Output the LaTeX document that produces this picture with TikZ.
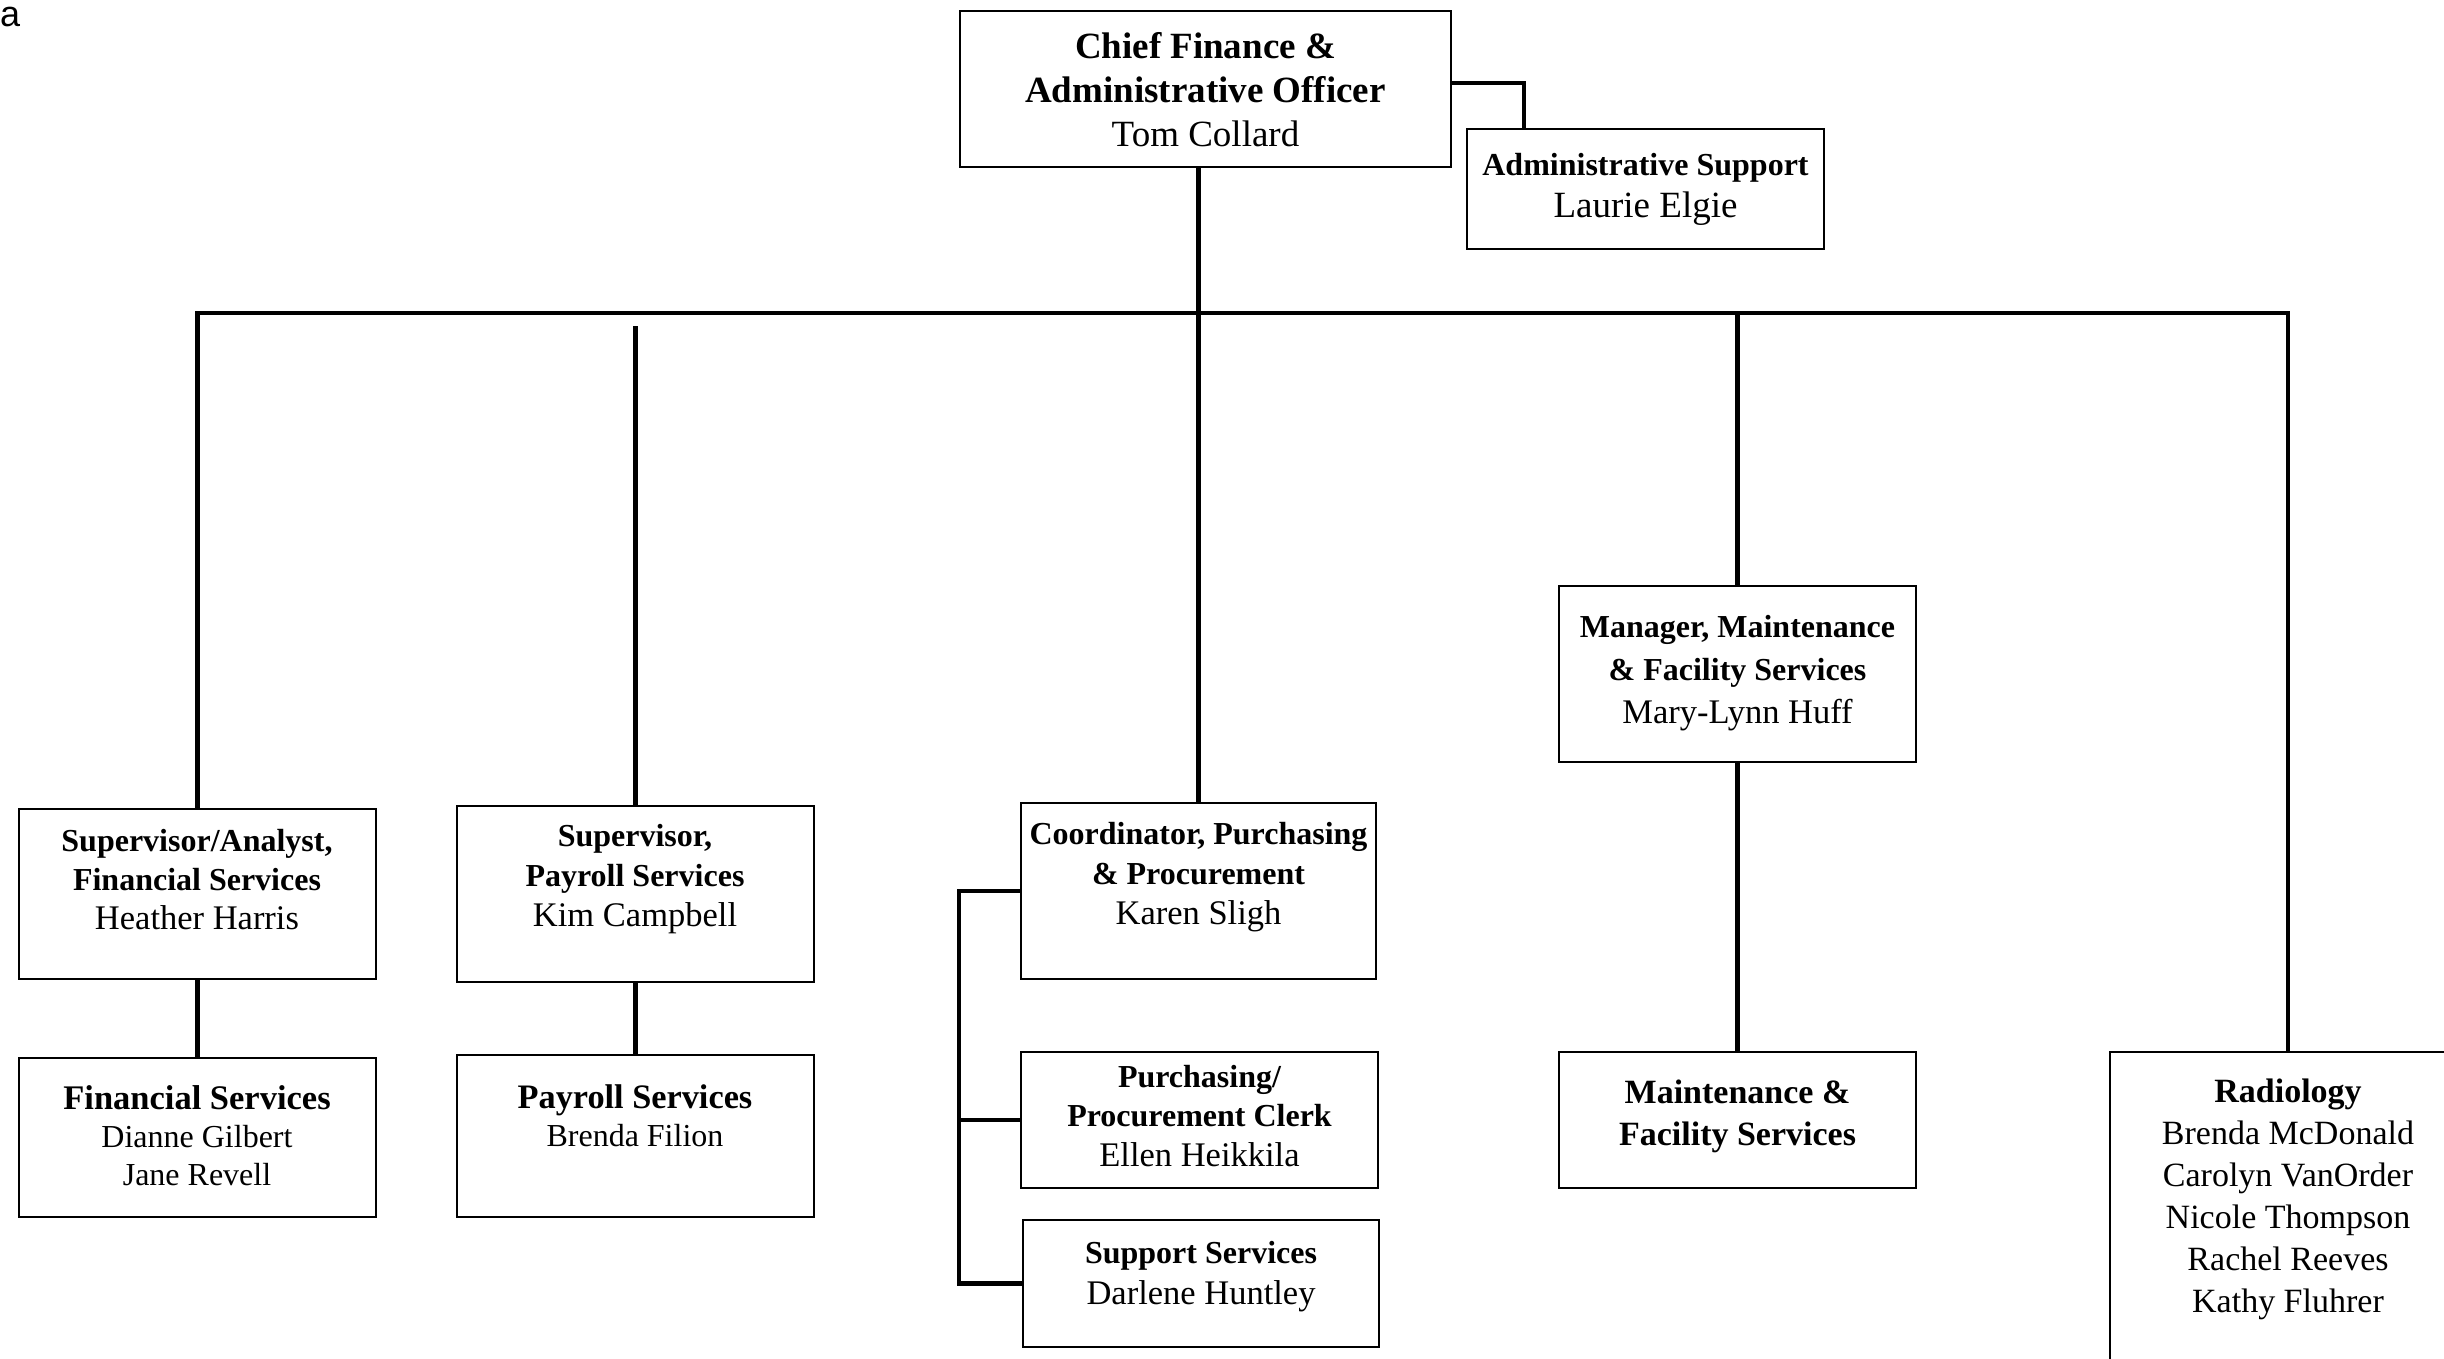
\documentclass[tikz,border=0pt]{standalone}
\usepackage{fontspec}
\setmainfont{Liberation Serif}
\newfontfamily\labelsans{Liberation Sans}
\newcommand\bx[5]{\node[box, minimum width=#4pt, minimum height=#5pt] (#1) at (#2,#3) {};}
\begin{document}
\begin{tikzpicture}[x=1pt,y=-1pt,
  box/.style={draw, line width=2.5pt, rectangle, inner sep=0pt},
  conn/.style={line width=4.5pt, line join=miter},
  txt/.style={align=center, inner sep=0pt}]
\useasboundingbox (0,0) rectangle (2444,1359);
\clip (0,0) rectangle (2444,1359);

% boxes
\bx{top}{1205.5}{89}{491}{156}
\bx{admin}{1645.5}{189}{357}{120}
\bx{sup1}{197.5}{894}{357}{170}
\bx{fin}{197.5}{1137.5}{357}{159}
\bx{sup2}{635.5}{894}{357}{176}
\bx{pay}{635.5}{1136}{357}{162}
\bx{coord}{1198.5}{891}{355}{176}
\bx{clerk}{1199.5}{1120}{357}{136}
\bx{supp}{1201}{1283.5}{356}{127}
\bx{mgr}{1737.5}{674}{357}{176}
\bx{maint}{1737.5}{1120}{357}{136}
\bx{rad}{2288}{1227}{356}{350}

% texts
\node[txt, font=\fontsize{37}{44}\selectfont] (ttop) at (1205.5,90)
  {{\bfseries Chief Finance \&}\\{\bfseries Administrative Officer}\\Tom Collard};
\node[txt, font=\fontsize{32}{42}\selectfont] (tadmin) at (1645.5,189)
  {{\bfseries Administrative Support}\\{\fontsize{37}{42}\selectfont Laurie Elgie}};
\node[txt, font=\fontsize{32}{39}\selectfont] (tsup1) at (197,880)
  {{\bfseries Supervisor/Analyst,}\\{\bfseries Financial Services}\\{\fontsize{34.5}{39}\selectfont Heather Harris}};
\node[txt, font=\fontsize{32}{38}\selectfont] (tfin) at (197,1136)
  {{\fontsize{34.5}{38}\selectfont\bfseries Financial Services}\\Dianne Gilbert\\Jane Revell};
\node[txt, font=\fontsize{32}{40}\selectfont] (tsup2) at (635,879)
  {{\bfseries Supervisor,}\\{\bfseries Payroll Services}\\{\fontsize{34.5}{40}\selectfont Kim Campbell}};
\node[txt, font=\fontsize{32}{38}\selectfont] (tpay) at (635,1116)
  {{\fontsize{34.3}{38}\selectfont\bfseries Payroll Services}\\Brenda Filion};
\node[txt, font=\fontsize{32}{40}\selectfont] (tcoord) at (1198.5,877)
  {{\bfseries Coordinator, Purchasing}\\{\bfseries \& Procurement}\\{\fontsize{34.5}{40}\selectfont Karen Sligh}};
\node[txt, font=\fontsize{32}{39.5}\selectfont] (tclerk) at (1199.5,1116)
  {{\bfseries Purchasing/}\\{\bfseries Procurement Clerk}\\{\fontsize{34.5}{39.5}\selectfont Ellen Heikkila}};
\node[txt, font=\fontsize{32}{41}\selectfont] (tsupp) at (1201,1277)
  {{\bfseries Support Services}\\{\fontsize{34.5}{41}\selectfont Darlene Huntley}};
\node[txt, font=\fontsize{32}{43}\selectfont] (tmgr) at (1737.5,673)
  {{\bfseries Manager, Maintenance}\\{\bfseries \& Facility Services}\\{\fontsize{34.5}{43}\selectfont Mary-Lynn Huff}};
\node[txt, font=\fontsize{34}{42}\selectfont] (tmaint) at (1737.5,1116)
  {{\bfseries Maintenance \&}\\{\bfseries Facility Services}};
\node[txt, font=\fontsize{34}{42}\selectfont] (trad) at (2288,1199)
  {{\bfseries Radiology}\\Brenda McDonald\\Carolyn VanOrder\\Nicole Thompson\\Rachel Reeves\\Kathy Fluhrer};

\node[font=\labelsans\fontsize{36}{40}\selectfont, anchor=base west, inner sep=0pt] (lbla) at (0,27) {a};

% connectors
\coordinate (busy) at (0,313);
\coordinate (gap) at (0,326);
\coordinate (brk) at (959,0);
\draw[conn] ([yshift=6pt]top.east) -| ([xshift=-121.5pt]admin.north);
\draw[conn] (top.south -| coord.north) -- (coord.north);
\draw[conn] (sup1.north) -- (sup1.north |- busy) -- (rad.north |- busy) -- (rad.north);
\draw[conn] (sup2.north |- gap) -- (sup2.north);
\draw[conn] (mgr.north |- busy) -- (mgr.north);
\draw[conn] (sup1.south) -- (fin.north);
\draw[conn] (sup2.south) -- (pay.north);
\draw[conn] (mgr.south) -- (maint.north);
\draw[conn] (coord.west) -- (coord.west -| brk) -- (supp.west -| brk) -- (supp.west);
\draw[conn] (clerk.west) -- (clerk.west -| brk);
\end{tikzpicture}
\end{document}
